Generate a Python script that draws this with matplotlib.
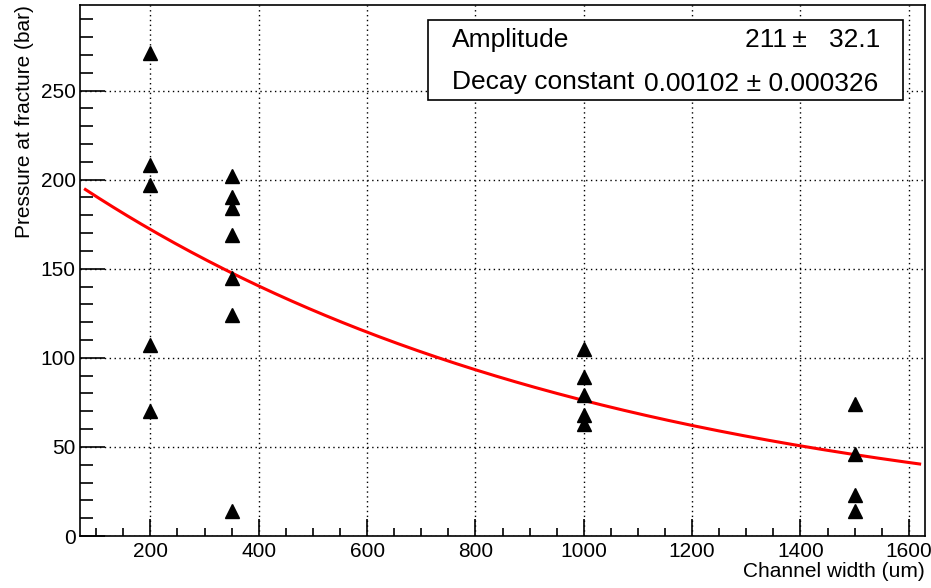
import numpy as np
import matplotlib
matplotlib.use("Agg")
import matplotlib.pyplot as plt
from matplotlib.ticker import MultipleLocator

plt.rcParams["font.family"] = ["Liberation Sans", "DejaVu Sans"]

# measured points
width_um = [200, 200, 200, 200, 200,
            350, 350, 350, 350, 350, 350, 350,
            1000, 1000, 1000, 1000, 1000,
            1500, 1500, 1500, 1500]
pressure_bar = [271, 208, 197, 107, 70,
                202, 190, 184, 169, 145, 124, 14,
                105, 89, 79, 68, 63,
                74, 46, 23, 14]

# fit results
amplitude = 211
amplitude_err = 32.1
decay = 0.00102
decay_err = 0.000326

fig = plt.figure(figsize=(9.31, 5.88), dpi=100)
ax = fig.add_axes([0.0859, 0.0884, 0.9077, 0.9031])

ax.plot(width_um, pressure_bar, linestyle="none", marker="^",
        markersize=10, color="black", zorder=3)

xf = np.linspace(80, 1620, 300)
ax.plot(xf, amplitude * np.exp(-decay * xf), color="red", lw=2.2, zorder=2)

ax.set_xlim(70, 1630)
ax.set_ylim(0, 298)

ax.xaxis.set_major_locator(MultipleLocator(200))
ax.xaxis.set_minor_locator(MultipleLocator(50))
ax.yaxis.set_major_locator(MultipleLocator(50))
ax.yaxis.set_minor_locator(MultipleLocator(10))
ax.tick_params(axis="both", which="both", direction="in", labelsize=15,
               top=False, right=False, width=1.2)
ax.tick_params(axis="x", which="major", length=12, pad=4)
ax.tick_params(axis="x", which="minor", length=6)
ax.tick_params(axis="y", which="major", length=18, pad=3)
ax.tick_params(axis="y", which="minor", length=9)
for s in ax.spines.values():
    s.set_linewidth(1.2)

ax.grid(True, which="major", color="black", linestyle=(0, (1, 2.5)), lw=1.0)
ax.set_axisbelow(True)

ax.set_xlabel("Channel width (um)", fontsize=15, loc="right", labelpad=1)
ax.set_ylabel("Pressure at fracture (bar)", fontsize=15, loc="top", labelpad=5)

# fit box
bx0, bx1 = (428 - 80) / 845, (903 - 80) / 845
by0, by1 = (536 - 100) / 531, (536 - 20) / 531
box = plt.Rectangle((bx0, by0), bx1 - bx0, by1 - by0, transform=ax.transAxes,
                    facecolor="white", edgecolor="black", lw=1.2, zorder=5)
ax.add_patch(box)
tx = (452 - 80) / 845
ax.text(tx, (536 - 40) / 531, "Amplitude", transform=ax.transAxes,
        fontsize=19, va="center", ha="left", zorder=6)
ax.text((880 - 80) / 845, (536 - 40) / 531,
        f"{amplitude}\u2009\u00b1   {amplitude_err}", transform=ax.transAxes,
        fontsize=19, va="center", ha="right", zorder=6)
ax.text(tx, (536 - 82) / 531, "Decay constant", transform=ax.transAxes,
        fontsize=19, va="center", ha="left", zorder=6)
ax.text((878 - 80) / 845, (536 - 84) / 531,
        f"{decay} \u00b1 {decay_err}", transform=ax.transAxes,
        fontsize=19, va="center", ha="right", zorder=6)

fig.savefig("out.png", dpi=100)
